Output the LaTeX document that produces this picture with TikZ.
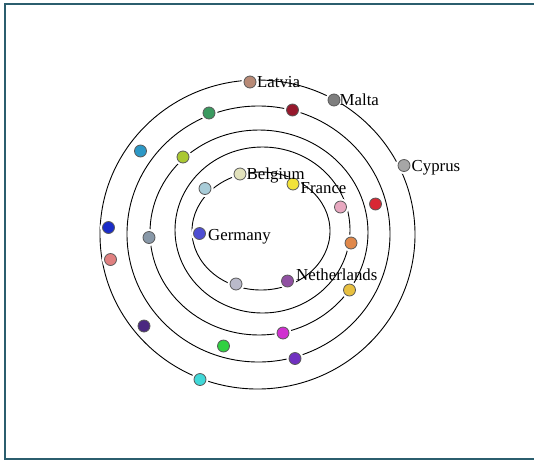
\documentclass[tikz,border=0pt]{standalone}
\usepackage{fontspec}
\setmainfont{Liberation Serif}
% dot colours
\definecolor{framecol}{HTML}{2B5E6E}
\definecolor{cLV}{HTML}{B88A76}
\definecolor{cMT}{HTML}{7E7E7E}
\definecolor{cCY}{HTML}{A6A6A6}
\definecolor{cBE}{HTML}{E2E2BC}
\definecolor{cFR}{HTML}{F2E23A}
\definecolor{cDE}{HTML}{4E4ED2}
\definecolor{cNL}{HTML}{9050A2}
\definecolor{k1}{RGB}{150,24,44}
\definecolor{k2}{RGB}{58,154,96}
\definecolor{k3}{RGB}{44,152,198}
\definecolor{k4}{RGB}{170,200,50}
\definecolor{k5}{RGB}{168,204,216}
\definecolor{k6}{RGB}{232,168,192}
\definecolor{k7}{RGB}{216,40,52}
\definecolor{k8}{RGB}{26,44,200}
\definecolor{k9}{RGB}{136,152,168}
\definecolor{k10}{RGB}{224,136,74}
\definecolor{k11}{RGB}{224,128,128}
\definecolor{k12}{RGB}{186,186,202}
\definecolor{k13}{RGB}{232,192,64}
\definecolor{k14}{RGB}{74,40,128}
\definecolor{k15}{RGB}{208,48,208}
\definecolor{k16}{RGB}{48,208,64}
\definecolor{k17}{RGB}{112,48,192}
\definecolor{k18}{RGB}{64,216,216}
\begin{document}
\begin{tikzpicture}[x=1pt,y=-1pt,
  ring/.style={draw=black, line width=0.9pt},
  frame/.style={draw=framecol, line width=2.5pt},
  country/.style={circle, inner sep=0pt, minimum size=12pt,
    draw=black!65, line width=0.8pt, fill=#1,
    preaction={draw=white, line width=5pt}},
  tag/.style={anchor=base west, inner sep=0pt, font=\fontsize{16.8}{19}\selectfont}]
\useasboundingbox (0,0) rectangle (534,461);
\clip (0,0) rectangle (534,461);
\fill[white] (0,0) rectangle (534,461);
\draw[frame] (5,4) rectangle (545,459);

% five orbits, innermost first
\draw[ring] (261,231) ellipse [x radius=69, y radius=59];
\draw[ring] (262.5,230) ellipse [x radius=87.5, y radius=83];
\draw[ring] (259,232.5) ellipse [x radius=109, y radius=102.5];
\draw[ring] (258.5,234) ellipse [x radius=131.5, y radius=128];
\draw[ring] (257.5,234.5) ellipse [x radius=157.5, y radius=154.5];

% named member states
\node[country=cLV] (lv) at (250,82) {};
\node[country=cMT] (mt) at (334,100) {};
\node[country=cCY] (cy) at (404,165.5) {};
\node[country=cBE] (be) at (240,174) {};
\node[country=cFR] (fr) at (293,184) {};
\node[country=cDE] (de) at (199.5,233.5) {};
\node[country=cNL] (nl) at (287.5,281) {};

% other dots on the orbits
\node[country=k1] (d1) at (292.5,110) {};
\node[country=k2] (d2) at (209,113) {};
\node[country=k3] (d3) at (140.5,151) {};
\node[country=k4] (d4) at (183,157) {};
\node[country=k5] (d5) at (205,188.5) {};
\node[country=k6] (d6) at (340.5,207) {};
\node[country=k7] (d7) at (375.5,204) {};
\node[country=k8] (d8) at (108.5,227.5) {};
\node[country=k9] (d9) at (149,237.5) {};
\node[country=k10] (d10) at (351,243) {};
\node[country=k11] (d11) at (110.5,259.5) {};
\node[country=k12] (d12) at (236,284) {};
\node[country=k13] (d13) at (349.5,290) {};
\node[country=k14] (d14) at (144,326) {};
\node[country=k15] (d15) at (283,333) {};
\node[country=k16] (d16) at (223.5,346) {};
\node[country=k17] (d17) at (295,358.5) {};
\node[country=k18] (d18) at (200,379.5) {};

% names
\node[tag] (tlv) at (257,87.5) {Latvia};
\node[tag] (tmt) at (339.5,105) {Malta};
\node[tag] (tcy) at (411.5,171) {Cyprus};
\node[tag] (tbe) at (246.5,179) {Belgium};
\node[tag] (tfr) at (300.5,193) {France};
\node[tag] (tde) at (208,240) {Germany};
\node[tag] (tnl) at (296,280) {Netherlands};
\end{tikzpicture}
\end{document}
